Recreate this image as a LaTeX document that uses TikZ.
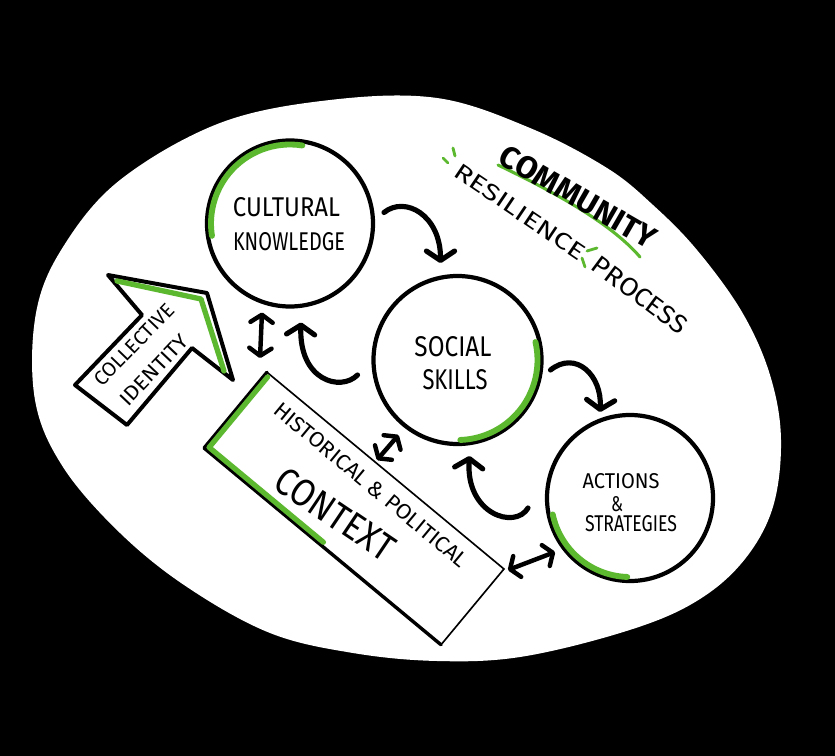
\documentclass[tikz,border=0pt]{standalone}
\usepackage{fontspec}
\setmainfont{Fira Sans}
\usepackage{graphicx}
\usetikzlibrary{arrows.meta,calc}
\newlength\pxu
\setlength\pxu{0.03cm}
\newcommand\fitt[3]{\resizebox{#1\pxu}{#2\pxu}{#3}}
\definecolor{hlgreen}{HTML}{5CB82E}
\begin{document}
\begin{tikzpicture}[x=0.03cm,y=-0.03cm,
  circ/.style={circle,draw=black,line width=3.6pt,minimum size=4.98cm,inner sep=0pt,fill=white},
  garc/.style={draw=hlgreen,line width=5pt,line cap=round},
  lbl/.style={inner sep=0pt,text=black},
  carr/.style={line width=4.4pt,line cap=round,-{Straight Barb[round,length=8pt,width=24pt]}},
  darr/.style={line width=3.8pt,line cap=round,{Straight Barb[round,length=6.5pt,width=19pt]}-{Straight Barb[round,length=6.5pt,width=19pt]}},
  gtick/.style={draw=hlgreen,line width=2.4pt,line cap=round}]
\useasboundingbox (0,0) rectangle (835,756);
\fill[black] (0,0) rectangle (835,756);
% white oval
\fill[white] plot[smooth cycle,tension=0.6] coordinates {
 (437,98) (530,128) (607,168) (653,205) (697,250) (742,312) (770,375) (781,440)
 (772,510) (740,565) (690,605) (620,633) (520,657) (437,661) (353,653) (270,633)
 (187,587) (120,533) (63,467) (35,400) (36,313) (63,247) (120,180) (220,123) (330,100)};

% circles
\node[circ] (ck) at (290,223.5) {};
\node[circ,minimum size=5.04cm] (ss) at (457.5,360) {};
\node[circ] (as) at (630,498) {};
\draw[garc] ([shift={(-81:79)}]ck.center) arc[start angle=-81,end angle=-189,radius=79];
\draw[garc] ([shift={(-13:80)}]ss.center) arc[start angle=-13,end angle=88,radius=80];
\draw[garc] ([shift={(-192:79)}]as.center) arc[start angle=-192,end angle=-268,radius=79];

\node[lbl] (tcult) at (286.5,207.5) {\fitt{107}{19}{CULTURAL}};
\node[lbl] (tknow) at (289,242) {\fitt{112}{18}{KNOWLEDGE}};
\node[lbl] (tsoc) at (453,347) {\fitt{77}{20}{SOCIAL}};
\node[lbl] (tskl) at (455,380) {\fitt{65}{20}{SKILLS}};
\node[lbl] (tact) at (621,481) {\fitt{77}{15}{ACTIONS}};
\node[lbl] (tamp) at (617,504) {\fitt{12}{15}{\&}};
\node[lbl] (tstr) at (631,524) {\fitt{92}{16}{STRATEGIES}};

% collective identity arrow
\draw[line width=3.4pt,line join=round,fill=white] (108,275) -- (207,293) -- (233,380) -- (192,348) -- (127,425) -- (75,385) -- (142,315) -- cycle;
\draw[hlgreen,line width=4.5pt,line join=round,line cap=round] (117,281) -- (201,299) -- (224,371);
\node[lbl,rotate=46] (tcoll) at (134,345) {\fitt{106}{14}{COLLECTIVE}};
\node[lbl,rotate=46.5] (tiden) at (154,370) {\fitt{90}{14}{IDENTITY}};

% historical & political context box
\node[draw,line width=1.4pt,minimum width=9.24cm,minimum height=2.955cm,rotate=-39.7,inner sep=0pt,outer sep=0pt,fill=white] (hist) at (354,508.5) {};
\begin{scope}[shift={(hist.center)},rotate=-39.7]
 \draw[line width=2.9pt,line join=round,line cap=round] (-154,-49.25) -- (-154,49.25) -- (154,49.25);
 \draw[hlgreen,line width=4.5pt,line cap=round,line join=round] (-150.5,-46) -- (-150.5,45.5) -- (-2,45.5);
\end{scope}
\node[lbl,rotate=-39.7] (thist) at (371,485) {\fitt{245}{15}{HISTORICAL \& POLITICAL}};
\node[lbl,rotate=-34] (tctx) at (335,514) {\fitt{135}{27}{CONTEXT}};

% title
\draw[hlgreen,line width=2.6pt,line cap=round] (498,165) .. controls (550,190) and (610,222) .. (640,257);
\node[lbl,rotate=-30] (tcomm) at (578,197) {\fitt{175}{22}{\bfseries COMMUNITY}};
\node[lbl,rotate=-34] (tres) at (520,212) {\fitt{153}{16}{RESILIENCE}};
\node[lbl,rotate=-36.7] (tproc) at (640,295) {\fitt{112}{18}{PROCESS}};
\draw[gtick] (443,158) -- (448,163);
\draw[gtick] (453,148) -- (455,156);
\draw[gtick] (587,251) -- (597,248);
\draw[gtick] (582,258) -- (585,267);

% curved arrows
\draw[carr] ([shift={(94,-11)}]ck.center) .. controls +(21,-17) and +(0,-48) .. ([shift={(-17,-97)}]ss.center);
\draw[carr] ([shift={(93,10)}]ss.center) .. controls +(25,-20) and +(2,-37) .. ([shift={(-30,-86)}]as.center);
\draw[carr] ([shift={(-100,15)}]ss.center) .. controls +(-17,17) and +(-2,58) .. ([shift={(11,99)}]ck.center);
\draw[carr] ([shift={(-102,10)}]as.center) .. controls +(-13,22) and +(-4,58) .. ([shift={(12,96)}]ss.center);

% double arrows
\draw[darr] ([shift={(-28,89)}]ck.center) -- ([shift={(-94,-150.5)}]hist.center);
\draw[darr] ([shift={(-59,75)}]ss.center) -- ([shift={(23,-48.5)}]hist.center);
\draw[darr] ([shift={(154,61.5)}]hist.center) -- ([shift={(-75,54)}]as.center);
\end{tikzpicture}
\end{document}
